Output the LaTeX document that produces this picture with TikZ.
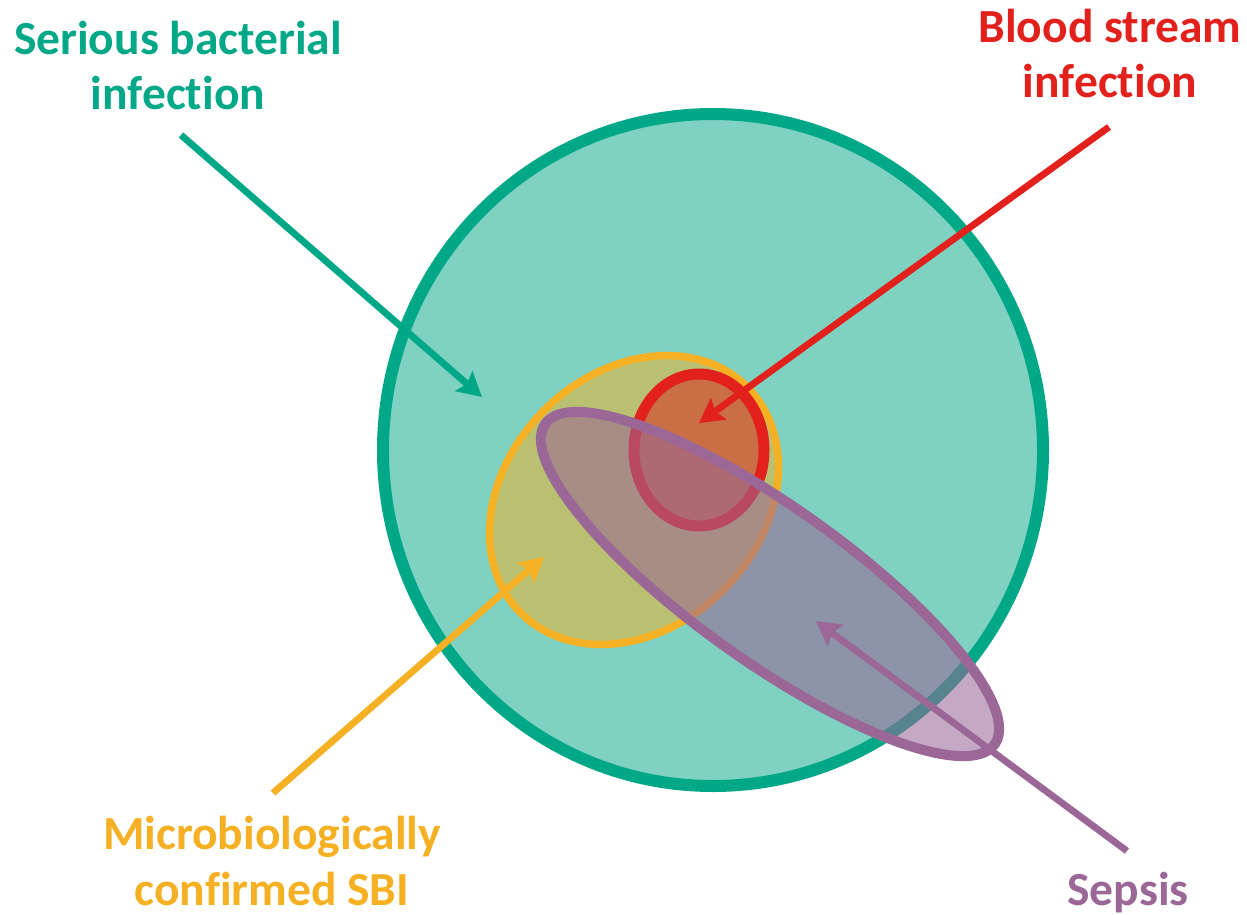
\documentclass[tikz,border=0pt]{standalone}
\usepackage{fontspec}
\setmainfont[Ligatures=NoCommon]{Carlito}
\usetikzlibrary{arrows.meta}
\definecolor{tealfill}{HTML}{7FD1C2}
\definecolor{sbigreen}{HTML}{00A887}
\definecolor{msbiorange}{HTML}{F5B024}
\definecolor{bsired}{HTML}{E2201C}
\definecolor{redfill}{HTML}{C96E45}
\definecolor{sepsis}{HTML}{9A6796}
\begin{document}
\begin{tikzpicture}[x=1pt,y=-1pt,
  lbl/.style={font=\bfseries\fontsize{47.5}{55.5}\selectfont, align=center, anchor=base, inner sep=0pt},
  arr/.style={line width=6.8pt, -{Stealth[length=24pt,width=26pt,inset=4pt]}}]
\useasboundingbox (0,0) rectangle (1247,915);
\fill[white] (0,0) rectangle (1247,915);
% sets
\filldraw[fill=tealfill, draw=sbigreen, line width=12pt] (713,450) ellipse [x radius=330, y radius=336];
\filldraw[fill=msbiorange, fill opacity=0.5, draw=msbiorange, line width=7.5pt, rotate around={45:(634,500)}] (634,500) ellipse [x radius=160, y radius=127];
\filldraw[fill=redfill, draw=bsired, line width=11pt] (699,450) ellipse [x radius=65, y radius=76];
\filldraw[fill=sepsis, fill opacity=0.57, draw=sepsis, line width=10pt, rotate around={-35.5:(770,584)}] (770,584) ellipse [x radius=276, y radius=77];
% labels (anchored at the baseline of the last line)
\node[lbl, text=sbigreen] (sbi) at (178,110) {Serious bacterial\\infection};
\node[lbl, text=bsired] (bsi) at (1110,98) {Blood stream\\infection};
\node[lbl, text=msbiorange] (msbi) at (272,905) {Microbiologically\\confirmed SBI};
\node[lbl, text=sepsis] (sep) at (1128,905) {Sepsis};
% arrow ends
\coordinate (sbiS) at (181,135); \coordinate (sbiT) at (482,397);
\coordinate (bsiS) at (1109,127); \coordinate (bsiT) at (699,423);
\coordinate (msbiS) at (273,793); \coordinate (msbiT) at (544,557);
\coordinate (sepS) at (1127,851); \coordinate (sepT) at (816,621);
\draw[arr, sbigreen] (sbiS) -- (sbiT);
\draw[arr, bsired] (bsiS) -- (bsiT);
\draw[arr, msbiorange] (msbiS) -- (msbiT);
\draw[arr, sepsis] (sepS) -- (sepT);
\end{tikzpicture}
\end{document}
